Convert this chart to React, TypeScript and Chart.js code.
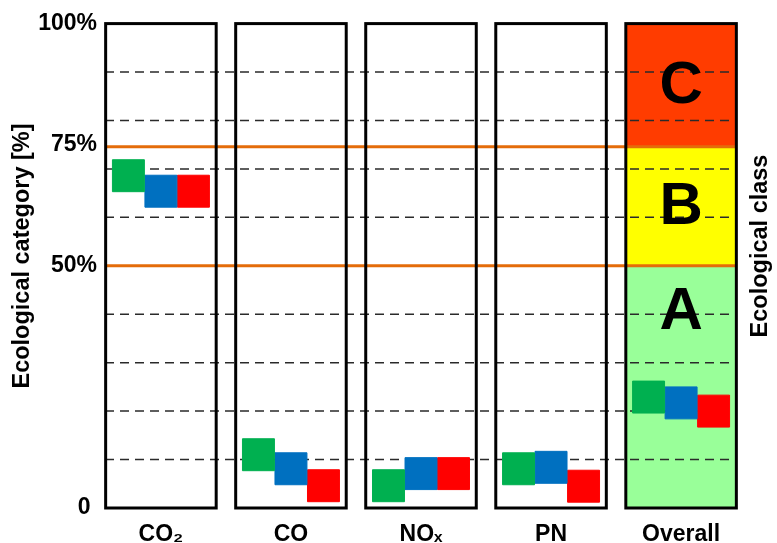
import React, { useEffect, useRef } from 'react';
import { Chart, registerables } from 'chart.js';

Chart.register(...registerables);

const categories = ['CO₂', 'CO', 'NOₓ', 'PN', 'Overall'];
const greenValues = [68.6, 11.0, 4.6, 8.1, 22.9];
const blueValues = [65.4, 8.1, 7.1, 8.4, 21.7];
const redValues = [65.4, 4.6, 7.1, 4.5, 20.0];
const yTickValues = [0, 50, 75, 100];
const yTickLabels = ['0 ', '50%', '75%', '100%'];
const gridValues = [10, 20, 30, 40, 60, 70, 80, 90];
const classBounds = [50, 74.6];
const classNames = ['A', 'B', 'C'];
const classLetterValues = [41.4, 63.0, 88.1];
const classColors = ['#99FF99', '#FFFF00', '#FF3C00'];

const FONT = '"Liberation Sans", Arial, sans-serif';
const HALF = 0.425;
const OFFSETS = [-0.25, 0, 0.25];

const panelPlugin = {
  id: 'panels',
  beforeDatasetsDraw(chart: any) {
    const { ctx, chartArea } = chart;
    const x = chart.scales.x;
    const y = chart.scales.y;
    const t = y.getPixelForValue(100);
    const b = y.getPixelForValue(0);
    ctx.save();
    const last = categories.length - 1;
    categories.forEach((_, i) => {
      const l = x.getPixelForValue(i - HALF);
      const r = x.getPixelForValue(i + HALF);
      if (i === last) {
        const edges = [0, ...classBounds, 100];
        for (let k = 0; k < classColors.length; k++) {
          const y1 = y.getPixelForValue(edges[k + 1]);
          const y0 = y.getPixelForValue(edges[k]);
          ctx.fillStyle = classColors[k];
          ctx.fillRect(l, y1, r - l, y0 - y1);
        }
      } else {
        ctx.fillStyle = '#ffffff';
        ctx.fillRect(l, t, r - l, b - t);
      }
    });
    // dashed grid
    ctx.setLineDash([9, 6]);
    ctx.strokeStyle = '#2a2a2a';
    ctx.lineWidth = 1.5;
    gridValues.forEach((v) => {
      const yy = y.getPixelForValue(v);
      ctx.beginPath();
      ctx.moveTo(chartArea.left, yy);
      ctx.lineTo(chartArea.right, yy);
      ctx.stroke();
    });
    ctx.setLineDash([]);
    // class boundary lines
    ctx.strokeStyle = '#E46C0A';
    ctx.lineWidth = 3;
    classBounds.forEach((v) => {
      const yy = y.getPixelForValue(v);
      ctx.beginPath();
      ctx.moveTo(chartArea.left, yy);
      ctx.lineTo(chartArea.right, yy);
      ctx.stroke();
    });
    // panel borders
    ctx.strokeStyle = '#000000';
    ctx.lineWidth = 3;
    categories.forEach((_, i) => {
      const l = x.getPixelForValue(i - HALF);
      const r = x.getPixelForValue(i + HALF);
      ctx.strokeRect(l, t, r - l, b - t);
    });
    // class letters
    ctx.fillStyle = '#000000';
    ctx.font = `bold 60px ${FONT}`;
    ctx.textAlign = 'center';
    ctx.textBaseline = 'alphabetic';
    const cx = x.getPixelForValue(last);
    classNames.forEach((n, k) => {
      ctx.fillText(n, cx, y.getPixelForValue(classLetterValues[k]) + 21.5);
    });
    ctx.restore();
  },
  afterDraw(chart: any) {
    const { ctx } = chart;
    ctx.save();
    ctx.fillStyle = '#000000';
    ctx.font = `bold 23.5px ${FONT}`;
    ctx.textAlign = 'center';
    ctx.textBaseline = 'alphabetic';
    ctx.translate(29, 256);
    ctx.rotate(-Math.PI / 2);
    ctx.fillText('Ecological category [%]', 0, 0);
    ctx.restore();
    ctx.save();
    ctx.fillStyle = '#000000';
    ctx.font = `bold 23.5px ${FONT}`;
    ctx.textAlign = 'center';
    ctx.textBaseline = 'alphabetic';
    ctx.translate(767, 246);
    ctx.rotate(-Math.PI / 2);
    ctx.fillText('Ecological class', 0, 0);
    ctx.restore();
  },
};

function makeSeries(values: number[], k: number, color: string) {
  return {
    label: `series${k}`,
    data: values.map((v, i) => ({ x: i + OFFSETS[k], y: v })),
    pointStyle: 'rect',
    pointRadius: 22.6,
    pointHoverRadius: 22.6,
    backgroundColor: color,
    borderColor: color,
    borderWidth: 1,
  };
}

export default function App() {
  const ref = useRef<HTMLCanvasElement>(null);
  useEffect(() => {
    document.body.style.margin = '0';
    const canvas = ref.current!;
    const chart = new Chart(canvas, {
      type: 'scatter',
      data: {
        datasets: [
          makeSeries(greenValues, 0, '#00B050'),
          makeSeries(blueValues, 1, '#0070C0'),
          makeSeries(redValues, 2, '#FF0000'),
        ],
      },
      options: {
        animation: false,
        responsive: false,
        layout: { padding: { top: 22, left: 0, right: 0, bottom: 0 } },
        plugins: { legend: { display: false }, tooltip: { enabled: false } },
        scales: {
          x: {
            type: 'linear',
            min: -0.43,
            max: 4.43,
            grid: { display: false, drawTicks: false },
            border: { display: false },
            ticks: {
              autoSkip: false,
              maxRotation: 0,
              padding: 13,
              color: '#000',
              font: { family: FONT, size: 23, weight: 'bold' },
              callback: (v: any) => categories[Math.round(v)] ?? '',
            },
            afterBuildTicks: (s: any) => {
              s.ticks = categories.map((_, i) => ({ value: i }));
            },
            afterFit: (s: any) => {
              s.height = 35;
            },
          },
          y: {
            type: 'linear',
            min: 0,
            max: 100,
            grid: { display: false, drawTicks: false },
            border: { display: false },
            ticks: {
              padding: 8,
              color: '#000',
              font: { family: FONT, size: 23, weight: 'bold' },
              callback: (v: any) => {
                const idx = yTickValues.indexOf(Number(v));
                return idx >= 0 ? yTickLabels[idx] : '';
              },
            },
            afterBuildTicks: (s: any) => {
              s.ticks = yTickValues.map((v) => ({ value: v }));
            },
            afterFit: (s: any) => {
              s.width = 105;
            },
          },
          y2: {
            type: 'linear',
            position: 'right',
            min: 0,
            max: 100,
            grid: { display: false, drawTicks: false },
            border: { display: false },
            ticks: { display: false },
            afterFit: (s: any) => {
              s.width = 40;
            },
          },
        },
      } as any,
      plugins: [panelPlugin],
    });
    return () => chart.destroy();
  }, []);
  return (
    <div style={{ position: 'absolute', left: 0, top: 0, width: 777, height: 543 }}>
      <canvas ref={ref} width={777} height={543} />
    </div>
  );
}
